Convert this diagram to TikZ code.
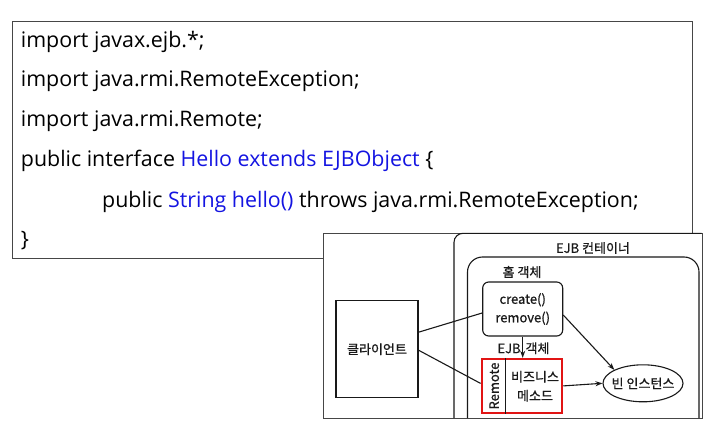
\documentclass[tikz,border=0pt]{standalone}
\usepackage{fontspec}
\setmainfont{Open Sans}
\newfontfamily\kr[FakeBold=0.8]{Noto Sans CJK KR}
\usetikzlibrary{arrows.meta,shapes.geometric}
\definecolor{codeblue}{RGB}{20,20,225}
\definecolor{frameg}{RGB}{70,70,70}
\definecolor{ink}{RGB}{25,25,25}
\definecolor{boxred}{RGB}{225,20,20}
\tikzset{
  codeline/.style={anchor=base west,inner sep=0pt,font=\fontsize{21.4}{24}\selectfont},
  dtext/.style={inner sep=0pt,font=\kr\fontsize{13}{14}\selectfont,text=ink},
  dline/.style={draw=ink,line width=1.1pt},
  darrow/.style={dline,-{Stealth[length=7pt,width=5pt]}},
}
\begin{document}
\begin{tikzpicture}[x=1pt,y=-1pt]
\useasboundingbox (0,0) rectangle (710,433);
% code box
\node[draw=frameg,line width=0.9pt,anchor=north west,minimum width=680pt,minimum height=236.5pt,inner sep=0pt] (code) at (11.7,21) {};
\node[codeline] (l1) at (20.7,47.3) {import javax.ejb.*;};
\node[codeline] (l2) at (20.7,87) {import java.rmi.RemoteException;};
\node[codeline] (l3) at (20.7,127) {import java.rmi.Remote;};
\node[codeline] (l4) at (20.7,167) {public interface \textcolor{codeblue}{Hello extends EJBObject} \{};
\node[codeline] (l5) at (102,207.5) {public \textcolor{codeblue}{String hello()} throws java.rmi.RemoteException;};
\node[codeline] (l6) at (20.7,247) {\}};
% picture frame
\node[draw=frameg,fill=white,line width=1pt,anchor=north west,minimum width=378.4pt,minimum height=184.7pt,inner sep=0pt] (pic) at (323.3,233.3) {};
% container outlines
\draw[dline,rounded corners=9pt] (454,418) -- (454,233.3) -- (701.7,233.3);
\draw[dline,rounded corners=15pt] (467.5,418) -- (467.5,257) -- (699,257) -- (699,418);
\node[dtext] (ctr) at (593,248) {EJB 컨테이너};
\node[dtext] (homelbl) at (522,272) {홈 객체};
% client
\node[dline,minimum width=82pt,minimum height=97pt,inner sep=0pt] (client) at (377,349.2) {};
\node[dtext] (clienttxt) at (client.center) {클라이언트};
% home object
\node[dline,rounded corners=6pt,minimum width=80pt,minimum height=54pt,inner sep=0pt,align=center,font=\kr\fontsize{13}{18.5}\selectfont,text=ink] (home) at (522.7,309) {create()\\remove()};
% EJB object (red box)
\node[draw=boxred,line width=2.4pt,minimum width=80.3pt,minimum height=53.7pt,inner sep=0pt] (rb) at (521.9,385.9) {};
\draw[dline] ([xshift=25pt]rb.north west) -- ([xshift=25pt]rb.south west);
\node[dtext,rotate=90] (remote) at (494.2,386) {Remote};
\node[dtext,align=center,font=\kr\fontsize{13}{19}\selectfont] (biz) at (535,386.2) {비즈니스\\메소드};
\node[dtext] (ejblbl) at (523.5,348.3) {EJB\hspace{5pt}객체};
% bean instance
\node[dline,ellipse,minimum width=80pt,minimum height=37pt,inner sep=0pt] (bean) at (643,383.3) {};
\node[dtext] (beantxt) at (bean.center) {빈 인스턴스};
% connectors
\draw[dline] ([yshift=17pt]client.east) -- ([yshift=-4pt]home.west);
\draw[dline] ([yshift=-1pt]client.east) -- ([yshift=2.5pt]rb.west);
\draw[darrow] (home.south) -- (home.south |- rb.north);
\draw[darrow] (rb.east) -- (bean.west);
\draw[darrow] ([yshift=-6pt]home.east) -- (bean.north west);
\end{tikzpicture}
\end{document}
